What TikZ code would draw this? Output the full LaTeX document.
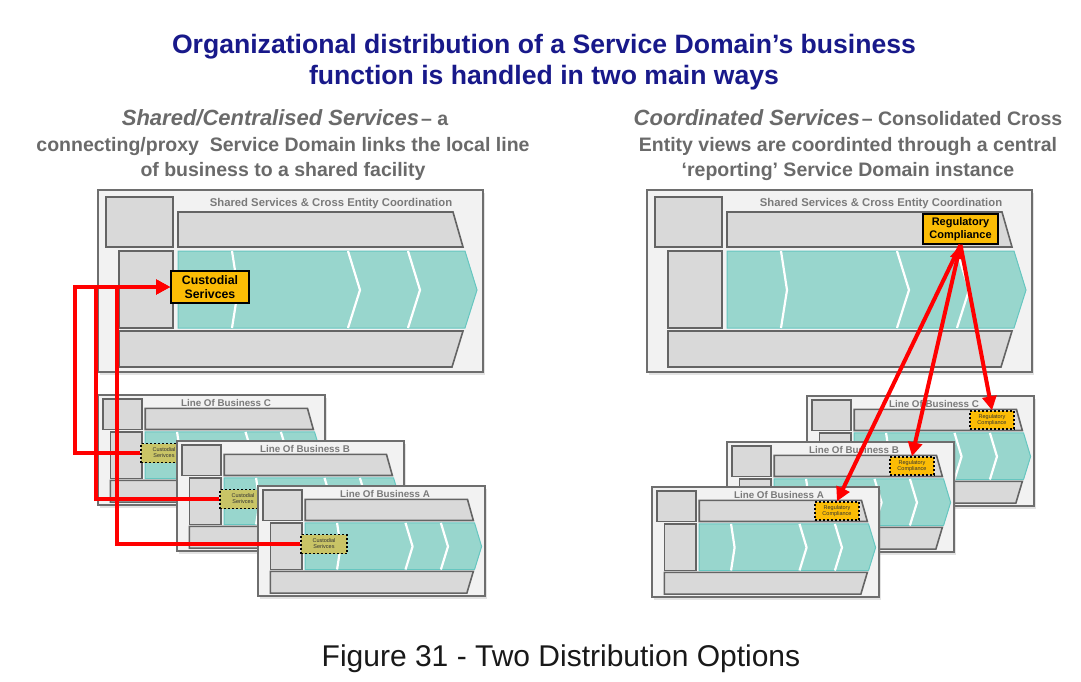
\documentclass[tikz,border=0pt]{standalone}
\usepackage{fontspec}
\setmainfont{Liberation Sans}
\usetikzlibrary{arrows.meta,shadows}
\definecolor{titleblue}{HTML}{18198A}
\definecolor{subgray}{HTML}{6A6A6A}
\definecolor{labelgray}{HTML}{7A7A7A}
\definecolor{goldbox}{HTML}{FBBC05}
\definecolor{olivebox}{HTML}{C9C466}
\definecolor{tealfill}{HTML}{98D6CD}
\definecolor{tealline}{HTML}{66C6C0}
\definecolor{boxfill}{HTML}{D9D9D9}
\definecolor{boxline}{HTML}{646464}
\definecolor{framefill}{HTML}{F2F2F2}
\definecolor{frameline}{HTML}{6E6E6E}
\definecolor{arrowred}{HTML}{FF0000}
\tikzset{
  frame/.style={draw=frameline,fill=framefill,line width=2pt,
    drop shadow={shadow xshift=2pt,shadow yshift=-3pt,opacity=.22}},
  gbox/.style={draw=boxline,fill=boxfill,line width=1.6pt},
  tealband/.style={draw=tealline,fill=tealfill,line width=1pt},
  divider/.style={draw=white,line width=2.2pt},
  bigtitle/.style={font=\bfseries\fontsize{11.3}{13}\selectfont,text=labelgray,inner sep=0},
  lobtitle/.style={font=\bfseries\fontsize{9.8}{11}\selectfont,text=labelgray,inner sep=0},
  bigbox/.style={draw=black,fill=goldbox,line width=1.6pt,inner sep=0,align=center,
    font=\bfseries\fontsize{12.3}{13.5}\selectfont},
  smallbox/.style={draw=black,dash pattern=on 2pt off 2pt,line width=1.4pt,inner sep=0,
    align=center,font=\fontsize{5.5}{6}\selectfont,text=black!80},
  headline/.style={font=\bfseries\fontsize{26.6}{31}\selectfont,text=titleblue,anchor=base,inner sep=0},
  subline/.style={font=\bfseries\fontsize{19.5}{25}\selectfont,text=subgray,anchor=base,inner sep=0},
  captionline/.style={font=\fontsize{30}{34}\selectfont,text=black!90,anchor=base,inner sep=0},
  redpath/.style={draw=arrowred,line width=4pt},
  redarrow/.style={redpath,-{Triangle[length=14pt,width=14pt]}},
  redboth/.style={redpath,{Triangle[length=14pt,width=14pt]}-{Triangle[length=14pt,width=14pt]}},
  pics/panel/.style={code={
    \draw[frame] (0,0) rectangle (385,182);
    \draw[gbox] (8,7) rectangle (75,57);
    \draw[gbox] (80,22) -- (355,22) -- (365,57) -- (80,57) -- cycle;
    \draw[gbox] (21,61) rectangle (75,138);
    \draw[tealband] (80,61) -- (367,61) -- (379,100) -- (367,138) -- (80,138) -- cycle;
    \draw[divider] (134,61) -- (140,100) -- (134,138);
    \draw[divider] (250,61) -- (262,100) -- (250,138);
    \draw[divider] (310,61) -- (322,100) -- (310,138);
    \draw[gbox] (21,141) -- (365,141) -- (354,177) -- (21,177) -- cycle;
  }}
}
\begin{document}
\begin{tikzpicture}[x=1pt,y=-1pt]
\useasboundingbox[fill=white] (0,0) rectangle (1081,681);

% headings
\node[headline] (h1) at (544,53.5) {Organizational distribution of a Service Domain’s business};
\node[headline] (h2) at (544,84.5) {function is handled in two main ways};

\node[subline] (ls1) at (285,125) {{\itshape\fontsize{22}{25}\selectfont Shared/Centralised Services}\kern2pt– a};
\node[subline] (ls2) at (283,151) {connecting/proxy\ \ Service Domain links the local line};
\node[subline] (ls3) at (283,176) {of business to a shared facility};

\node[subline] (rs1) at (848,125) {{\itshape\fontsize{22}{25}\selectfont Coordinated Services}\kern2pt– Consolidated Cross};
\node[subline] (rs2) at (848,151) {Entity views are coordinted through a central};
\node[subline] (rs3) at (848,176) {‘reporting’ Service Domain instance};

% ---------- left side ----------
\pic at (98,190) {panel};
\node[bigtitle] (tL) at (331,204) {Shared Services \& Cross Entity Coordination};
\node[bigbox,minimum width=78pt,minimum height=32pt] (cusBig) at (210,287) {Custodial\\Serivces};

\pic[xscale=.59,yscale=.605] at (98,395) {panel};
\node[lobtitle] (tLC) at (226,403) {Line Of Business C};
\node[smallbox,fill=olivebox,minimum width=46pt,minimum height=19pt] (cusC) at (164,453) {Custodial\\Serivces};

\pic[xscale=.59,yscale=.605] at (177,441) {panel};
\node[lobtitle] (tLB) at (305,448.5) {Line Of Business B};
\node[smallbox,fill=olivebox,minimum width=46pt,minimum height=19pt] (cusB) at (243,499) {Custodial\\Serivces};

\pic[xscale=.59,yscale=.605] at (258,486) {panel};
\node[lobtitle] (tLA) at (385,493.5) {Line Of Business A};
\node[smallbox,fill=olivebox,minimum width=46pt,minimum height=19pt] (cusA) at (324,544) {Custodial\\Serivces};

\coordinate (jC) at (75,287);
\coordinate (jB) at (96,287);
\coordinate (jA) at (117,287);
\draw[redarrow] (cusC.west) -| (jC) -- (cusBig.west);
\draw[redarrow] (cusB.west) -| (jB) -- (cusBig.west);
\draw[redarrow] (cusA.west) -| (jA) -- (cusBig.west);

% ---------- right side ----------
\pic at (647,190) {panel};
\node[bigtitle] (tR) at (881,204) {Shared Services \& Cross Entity Coordination};
\node[bigbox,minimum width=75pt,minimum height=30pt,font=\bfseries\fontsize{11}{12.5}\selectfont] (regBig) at (960.5,229) {Regulatory\\Compliance};

\pic[xscale=.59,yscale=.605] at (807,396) {panel};
\node[lobtitle] (tRC) at (934,403.5) {Line Of Business C};
\node[smallbox,fill=goldbox,minimum width=44pt,minimum height=18pt] (regC) at (992,420) {Regulatory\\Compliance};

\pic[xscale=.59,yscale=.605] at (727,442) {panel};
\node[lobtitle] (tRB) at (854,449.5) {Line Of Business B};
\node[smallbox,fill=goldbox,minimum width=44pt,minimum height=18pt] (regB) at (912,466) {Regulatory\\Compliance};

\pic[xscale=.59,yscale=.605] at (652,487) {panel};
\node[lobtitle] (tRA) at (779,494.5) {Line Of Business A};
\node[smallbox,fill=goldbox,minimum width=44pt,minimum height=18pt] (regA) at (837,511) {Regulatory\\Compliance};

\draw[redarrow] (regBig.south) -- (regA.north);
\draw[redboth] (regBig.south) -- (regB.north);
\draw[redarrow] (regBig.south) -- (regC.north);

% caption
\node[captionline] (cap) at (561,666) {Figure 31 - Two Distribution Options};
\end{tikzpicture}
\end{document}
